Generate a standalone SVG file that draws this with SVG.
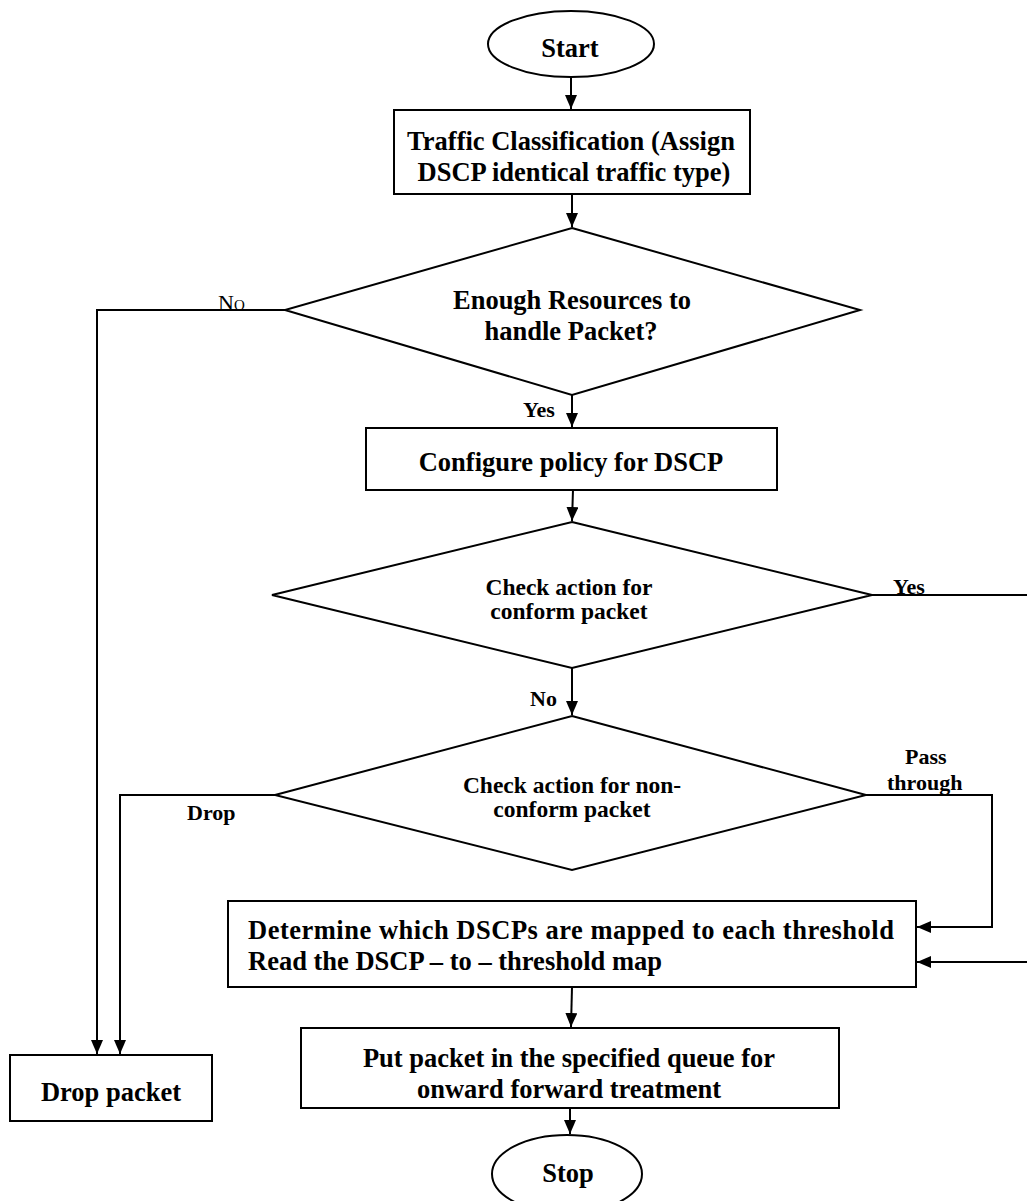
<svg xmlns="http://www.w3.org/2000/svg" width="1027" height="1201" viewBox="0 0 1027 1201">
  <style>
    .shape { fill: #fff; stroke: #000; stroke-width: 2; }
    .wire { fill: none; stroke: #000; stroke-width: 2; }
    .t { font-family: "Liberation Serif", "Times New Roman", serif; font-weight: bold; font-size: 26.5px; fill: #000; text-anchor: middle; }
    .ts { font-size: 23.5px; }
    .lbl { font-family: "Liberation Serif", "Times New Roman", serif; font-weight: bold; font-size: 22px; fill: #000; }
  </style>
  <defs>
    <marker id="arr" viewBox="0 0 14 12" refX="14" refY="6" markerWidth="14" markerHeight="12" markerUnits="userSpaceOnUse" orient="auto">
      <path d="M0,0 L14,6 L0,12 Z" fill="#000"/>
    </marker>
  </defs>
  <rect width="1027" height="1201" fill="#fff"/>

  <!-- connectors -->
  <g id="connectors">
    <path class="wire" d="M571,77 V109" marker-end="url(#arr)"/>
    <path class="wire" d="M572,194 V227" marker-end="url(#arr)"/>
    <path class="wire" d="M572,395 V427" marker-end="url(#arr)"/>
    <path class="wire" d="M573,490 L572,521" marker-end="url(#arr)"/>
    <path class="wire" d="M572,668 V715" marker-end="url(#arr)"/>
    <path class="wire" d="M572,987 L571,1027" marker-end="url(#arr)"/>
    <path class="wire" d="M570,1108 V1134" marker-end="url(#arr)"/>
    <!-- No: not enough resources -->
    <path class="wire" d="M285,310 H97 V1054" marker-end="url(#arr)"/>
    <!-- Drop -->
    <path class="wire" d="M275,795 H120 V1054" marker-end="url(#arr)"/>
    <!-- Pass through -->
    <path class="wire" d="M866,795 H992 V927 H917" marker-end="url(#arr)"/>
    <!-- Yes: conform packet -->
    <path class="wire" d="M872,595 H1045 V962 H917" marker-end="url(#arr)"/>
    <text class="lbl" x="218" y="310" style="font-weight:normal;font-size:22px;font-variant:small-caps">No</text>
    <text class="lbl" x="523" y="417">Yes</text>
    <text class="lbl" x="893" y="594">Yes</text>
    <text class="lbl" x="530" y="706">No</text>
    <text class="lbl" x="905" y="764">Pass</text>
    <text class="lbl" x="887" y="790">through</text>
    <text class="lbl" x="187" y="820">Drop</text>
  </g>

  <g id="start">
    <ellipse class="shape" cx="571" cy="44" rx="83" ry="33"/>
    <text class="t" x="570" y="57">Start</text>
  </g>

  <g id="classify">
    <rect class="shape" x="394" y="110" width="356" height="84"/>
    <text class="t" x="571" y="150">Traffic Classification (Assign</text>
    <text class="t" x="574" y="181">DSCP identical traffic type)</text>
  </g>

  <g id="resources">
    <polygon class="shape" points="572,228 860,310 572,395 285,310"/>
    <text class="t" x="572" y="309">Enough Resources to</text>
    <text class="t" x="571" y="340">handle Packet?</text>
  </g>

  <g id="policy">
    <rect class="shape" x="366" y="428" width="411" height="62"/>
    <text class="t" x="571" y="471">Configure policy for DSCP</text>
  </g>

  <g id="conform">
    <polygon class="shape" points="572,522 872,595 572,668 272,595"/>
    <text class="t ts" x="569" y="595">Check action for</text>
    <text class="t ts" x="569" y="619">conform packet</text>
  </g>

  <g id="nonconform">
    <polygon class="shape" points="572,716 866,795 572,870 275,795"/>
    <text class="t ts" x="572" y="793">Check action for non-</text>
    <text class="t ts" x="572" y="817">conform packet</text>
  </g>

  <g id="threshold">
    <rect class="shape" x="228" y="901" width="688" height="86"/>
    <text class="t" x="248" y="939" style="text-anchor:start" textLength="646" lengthAdjust="spacing">Determine which DSCPs are mapped to each threshold</text>
    <text class="t" x="248" y="970" style="text-anchor:start">Read the DSCP – to – threshold map</text>
  </g>

  <g id="queue">
    <rect class="shape" x="301" y="1028" width="538" height="80"/>
    <text class="t" x="569" y="1067">Put packet in the specified queue for</text>
    <text class="t" x="569" y="1098">onward forward treatment</text>
  </g>

  <g id="drop">
    <rect class="shape" x="10" y="1055" width="202" height="66"/>
    <text class="t" x="111" y="1101">Drop packet</text>
  </g>

  <g id="stop">
    <ellipse class="shape" cx="567" cy="1174" rx="75" ry="39"/>
    <text class="t" x="568" y="1182">Stop</text>
  </g>
</svg>
